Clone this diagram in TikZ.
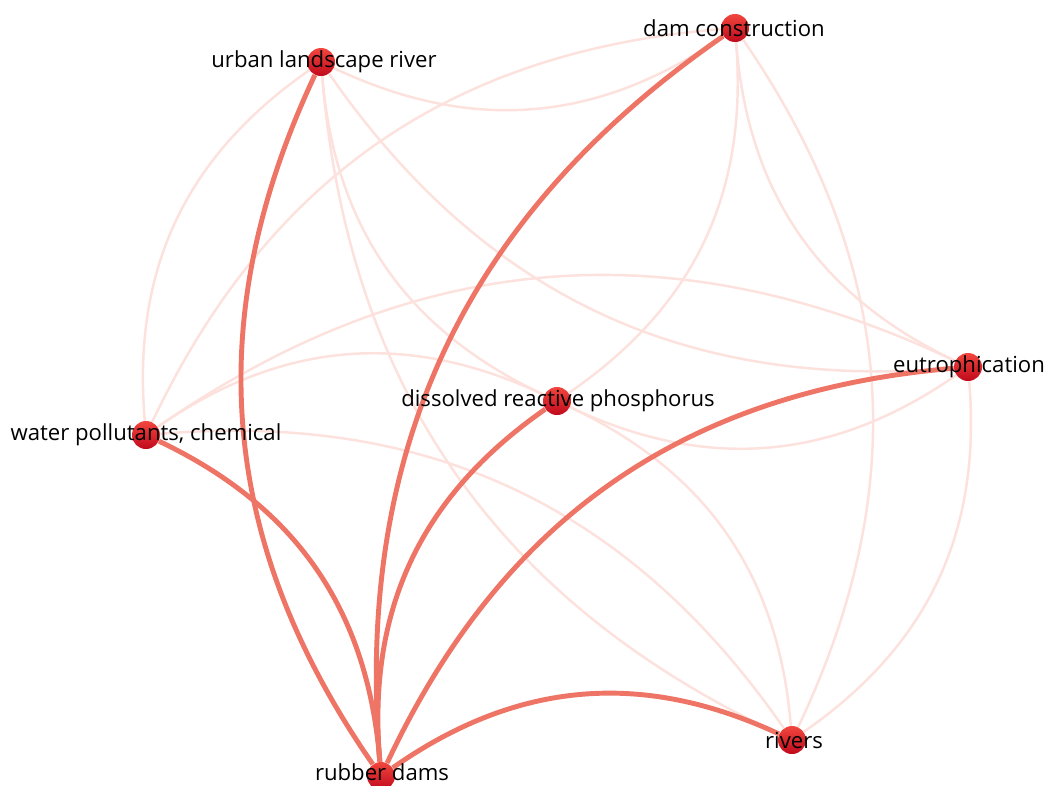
\documentclass[tikz,border=0pt]{standalone}
\usepackage{fontspec}
\setmainfont{Open Sans}
\usepackage{tikz}
\usetikzlibrary{backgrounds}

\definecolor{linkstrong}{HTML}{EE7466}
\definecolor{linkweak}{HTML}{FCE1DD}
\definecolor{nodetop}{HTML}{F2463E}
\definecolor{nodebottom}{HTML}{C00A1C}

\begin{document}
\begin{tikzpicture}[x=0.02cm, y=-0.02cm,
    kw/.style = {circle, minimum size=0.56cm, inner sep=0pt, top color=nodetop, bottom color=nodebottom},
    lbl/.style = {font=\fontsize{12.6}{14}\selectfont, text=black, inner sep=0pt},
    weak/.style = {linkweak, line width=1.4pt},
    strong/.style = {linkstrong, line width=2.8pt}]

    \useasboundingbox (0,0) rectangle (1047,785);

    \node[kw] (U) at (321,62) {};
    \node[kw] (D) at (735,28) {};
    \node[kw] (E) at (968,367) {};
    \node[kw] (P) at (557,401) {};
    \node[kw] (W) at (146,435) {};
    \node[kw] (R) at (381,776) {};
    \node[kw] (V) at (792,740) {};

    \begin{scope}[on background layer]
    \draw[weak] (W) to[bend left] (U);
    \draw[weak] (D) to[bend left] (U);
    \draw[weak] (W) to[bend left] (D);
    \draw[weak] (P) to[bend left] (U);
    \draw[weak] (V) to[bend left] (U);
    \draw[weak] (E) to[bend left] (U);
    \draw[weak] (W) to[bend left] (P);
    \draw[weak] (W) to[bend left] (E);
    \draw[weak] (W) to[bend left] (V);
    \draw[weak] (D) to[bend left] (P);
    \draw[weak] (E) to[bend left] (D);
    \draw[weak] (D) to[bend left] (V);
    \draw[weak] (E) to[bend left] (P);
    \draw[weak] (P) to[bend left] (V);
    \draw[weak] (E) to[bend left] (V);

    \draw[strong] (R) to[bend left] (U);
    \draw[strong] (R) to[bend left] (D);
    \draw[strong] (R) to[bend left] (P);
    \draw[strong] (R) to[bend left] (E);
    \draw[strong] (R) to[bend left] (V);
    \draw[strong] (W) to[bend left] (R);
    \end{scope}

    \node[lbl] (Ul) at (324,62) {urban landscape river};
    \node[lbl] (Dl) at (734,28) {dam construction};
    \node[lbl] (El) at (969,367) {eutrophication};
    \node[lbl] (Pl) at (558,401) {dissolved reactive phosphorus};
    \node[lbl] (Wl) at (146,435) {water pollutants, chemical};
    \node[lbl] (Rl) at (382,772) {rubber dams};
    \node[lbl] (Vl) at (794,740) {rivers};
\end{tikzpicture}
\end{document}
